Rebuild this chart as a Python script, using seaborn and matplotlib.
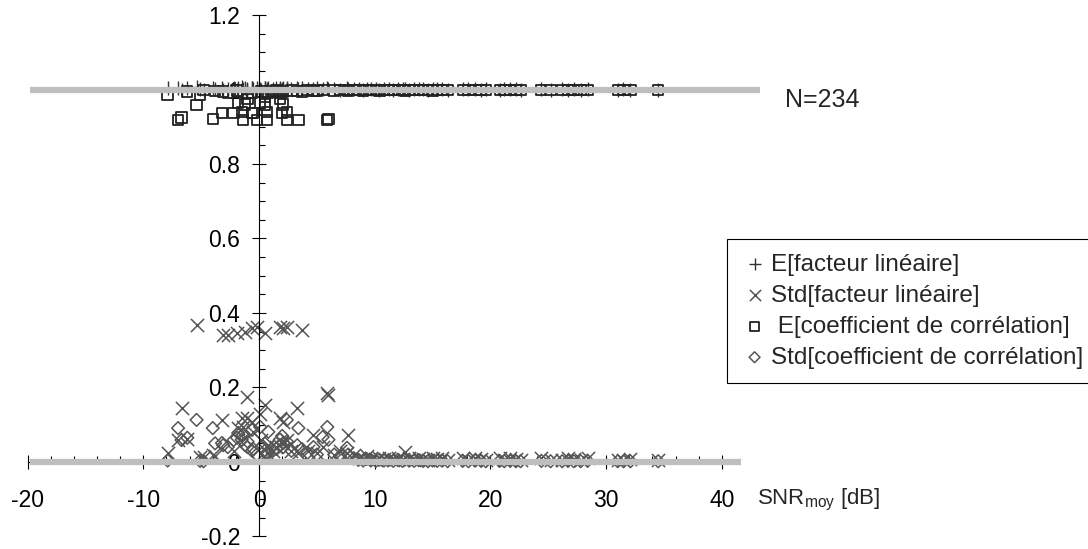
import numpy as np
import pandas as pd
import matplotlib
matplotlib.use("Agg")
import matplotlib.pyplot as plt
import matplotlib.ticker as mticker
import seaborn as sns

# ---------------- données ----------------
snr = [
    -7.9, -7.0, -6.7, -6.2, -5.4, -5.1, -4.8, -4.0, -3.8, -3.2,
    -3.1, -2.7, -2.2, -1.9, -1.8, -1.5, -1.4, -1.2, -1.0, -1.0,
    -0.6, -0.6, -0.5, -0.2, 0.1, 0.2, 0.5, 0.5, 0.7, 0.7,
    0.8, 1.2, 1.5, 1.8, 1.8, 2.0, 2.1, 2.1, 2.4, 2.4,
    2.8, 3.3, 3.4, 3.7, 4.2, 4.7, 5.0, 5.5, 5.9, 6.0,
    6.5, 7.0, 7.6, 7.7,
    8.2, 8.6, 9.0, 9.3, 9.7, 10.1, 10.4, 10.8, 11.2, 11.6,
    12.0, 12.4, 12.6, 13.0, 13.4, 13.8, 14.2, 14.6, 15.0, 15.4,
    15.8, 16.3, 17.6, 18.1, 18.7, 19.2, 19.6, 20.8, 21.2, 21.7,
    22.2, 22.6, 24.4, 25.2, 26.2, 26.7, 27.2, 27.8, 28.4, 31.0,
    31.5, 32.1, 34.5,
]

e_facteur = [
    1.003, 1.005, 0.998, 1.004, 1.006, 1.002, 1.000, 1.004, 1.001, 1.003,
    0.999, 1.002, 1.005, 1.000, 1.003, 1.006, 1.001, 1.004, 1.002, 1.000,
    1.005, 1.003, 1.001, 1.004, 1.002, 0.999, 1.003, 1.005, 1.001, 1.000,
    1.004, 1.002, 1.003, 1.001, 1.005, 1.002, 1.000, 1.004, 1.003, 1.001,
    1.002, 1.004, 1.001, 1.003, 1.002, 1.001, 1.004, 1.002, 1.003, 1.001,
    1.002, 1.000, 1.003, 1.001,
    1.001, 1.002, 1.000, 1.001, 1.002, 1.001, 1.000, 1.002, 1.001, 1.000,
    1.001, 1.002, 1.001, 1.000, 1.001, 1.002, 1.001, 1.000, 1.001, 1.002,
    1.001, 1.000, 1.001, 1.002, 1.001, 1.000, 1.001, 1.000, 1.001, 1.002,
    1.001, 1.000, 1.001, 1.000, 1.001, 1.000, 1.001, 1.000, 1.001, 1.000,
    1.001, 1.000, 1.000,
]

std_facteur = [
    0.024, 0.060, 0.145, 0.062, 0.368, 0.013, 0.013, 0.020, 0.015, 0.113,
    0.341, 0.341, 0.030, 0.346, 0.090, 0.118, 0.095, 0.350, 0.175, 0.118,
    0.360, 0.107, 0.080, 0.363, 0.130, 0.060, 0.346, 0.153, 0.040, 0.025,
    0.045, 0.030, 0.040, 0.363, 0.118, 0.050, 0.360, 0.107, 0.363, 0.060,
    0.030, 0.145, 0.025, 0.354, 0.030, 0.072, 0.025, 0.040, 0.185, 0.180,
    0.020, 0.030, 0.025, 0.072,
    0.020, 0.012, 0.008, 0.015, 0.010, 0.006, 0.012, 0.008, 0.010, 0.005,
    0.012, 0.008, 0.027, 0.010, 0.006, 0.012, 0.008, 0.005, 0.010, 0.007,
    0.012, 0.006, 0.010, 0.005, 0.012, 0.008, 0.004, 0.010, 0.006, 0.012,
    0.008, 0.004, 0.010, 0.006, 0.004, 0.010, 0.008, 0.005, 0.010, 0.006,
    0.004, 0.009, 0.005,
]

e_correl = [
    0.985, 0.918, 0.925, 0.995, 0.958, 0.985, 0.998, 0.921, 0.996, 0.937,
    0.995, 0.990, 0.937, 0.997, 0.965, 0.940, 0.918, 0.960, 0.975, 0.990,
    0.990, 0.937, 0.937, 0.918, 0.965, 0.995, 0.980, 0.960, 0.940, 0.918,
    0.990, 0.995, 0.997, 0.975, 0.990, 0.937, 0.960, 0.995, 0.940, 0.918,
    0.997, 0.996, 0.918, 0.995, 0.998, 0.996, 0.997, 0.998, 0.918, 0.921,
    0.997, 0.998, 0.998, 0.996,
    0.998, 0.999, 0.997, 0.999, 0.998, 0.999, 0.997, 0.999, 0.998, 0.999,
    0.998, 0.999, 0.997, 0.999, 0.998, 0.999, 0.998, 0.999, 0.997, 0.999,
    0.998, 0.999, 0.999, 0.998, 0.999, 0.999, 0.998, 0.999, 0.999, 0.998,
    0.999, 0.999, 0.999, 0.999, 0.999, 0.999, 0.999, 0.999, 0.999, 0.999,
    0.999, 0.999, 0.999,
]

std_correl = [
    0.004, 0.091, 0.059, 0.065, 0.113, 0.003, 0.002, 0.091, 0.050, 0.051,
    0.045, 0.040, 0.059, 0.065, 0.078, 0.060, 0.072, 0.045, 0.055, 0.040,
    0.086, 0.030, 0.035, 0.020, 0.094, 0.040, 0.030, 0.050, 0.025, 0.020,
    0.081, 0.030, 0.035, 0.060, 0.045, 0.070, 0.051, 0.040, 0.113, 0.055,
    0.030, 0.045, 0.091, 0.035, 0.025, 0.040, 0.020, 0.067, 0.094, 0.060,
    0.020, 0.015, 0.038, 0.020,
    0.010, 0.006, 0.004, 0.008, 0.005, 0.003, 0.006, 0.004, 0.005, 0.003,
    0.005, 0.003, 0.006, 0.004, 0.003, 0.005, 0.003, 0.002, 0.004, 0.003,
    0.004, 0.002, 0.003, 0.002, 0.004, 0.003, 0.002, 0.003, 0.002, 0.003,
    0.002, 0.002, 0.003, 0.002, 0.002, 0.003, 0.002, 0.002, 0.003, 0.002,
    0.002, 0.002, 0.002,
]

df = pd.DataFrame({"snr": snr, "e_fact": e_facteur, "std_fact": std_facteur,
                   "e_corr": e_correl, "std_corr": std_correl})

# ---------------- style ----------------
sns.set_theme(style="white")
plt.rcParams["font.family"] = ["Liberation Sans", "DejaVu Sans"]
plt.rcParams["axes.unicode_minus"] = False

fig = plt.figure(figsize=(10.88, 5.49), dpi=100)
ax = fig.add_axes([0, 0, 1, 1])

sns.scatterplot(data=df, x="snr", y="e_fact", marker="+", s=95,
                color="#333333", linewidth=1.0, label="E[facteur linéaire]", ax=ax)
sns.scatterplot(data=df, x="snr", y="std_fact", marker="x", s=90,
                color="#555555", linewidth=1.1, label="Std[facteur linéaire]", ax=ax)
sns.scatterplot(data=df, x="snr", y="e_corr", marker="s", s=55,
                facecolor="none", edgecolor="#222222", linewidth=1.3,
                label=" E[coefficient de corrélation]", ax=ax)
sns.scatterplot(data=df, x="snr", y="std_corr", marker="D", s=42,
                facecolor="none", edgecolor="#555555", linewidth=1.1,
                label="Std[coefficient de corrélation]", ax=ax)

# lignes grises de référence
ax.hlines(1.0, -19.8, 43.3, color="#bfbfbf", linewidth=4.5, zorder=4)
ax.hlines(0.0, -19.8, 41.7, color="#bfbfbf", linewidth=4.5, zorder=4)

ax.set_xlim(-22.39, 71.65)
ax.set_ylim(-0.2336, 1.2403)

# axes croisés en zéro
for s in ["top", "right"]:
    ax.spines[s].set_visible(False)
ax.spines["left"].set_position(("data", 0))
ax.spines["bottom"].set_position(("data", 0))
ax.spines["left"].set_bounds(-0.2, 1.2)
ax.spines["bottom"].set_bounds(-20, 40)
for s in ["left", "bottom"]:
    ax.spines[s].set_color("black")
    ax.spines[s].set_linewidth(0.8)

ax.xaxis.set_major_locator(mticker.FixedLocator(np.arange(-20, 41, 10)))
ax.xaxis.set_minor_locator(mticker.FixedLocator(np.arange(-20, 41, 2)))
ax.yaxis.set_major_locator(mticker.FixedLocator(np.round(np.arange(-0.2, 1.21, 0.2), 2)))
ax.yaxis.set_minor_locator(mticker.FixedLocator(np.round(np.arange(-0.2, 1.21, 0.05), 2)))
fmt = mticker.FuncFormatter(lambda v, p: f"{v:g}")
ax.xaxis.set_major_formatter(fmt)
ax.yaxis.set_major_formatter(fmt)

ax.tick_params(axis="x", which="major", direction="inout", length=10, width=0.8,
               pad=14.5, labelsize=16.5, colors="black", bottom=True)
ax.tick_params(axis="x", which="minor", direction="in", length=4, width=0.8,
               bottom=True, colors="black")
ax.tick_params(axis="y", which="major", direction="inout", length=10, width=0.8,
               pad=8.5, labelsize=16.5, colors="black", left=True)
ax.tick_params(axis="y", which="minor", direction="in", length=4, width=0.8,
               left=True, colors="black")
ax.set_xlabel("")
ax.set_ylabel("")

ax.text(45.5, 0.972, "N=234", fontsize=18, va="center", ha="left")
ax.text(43.0, -0.102, "SNR$_{\\mathregular{moy}}$ [dB]", fontsize=16,
        va="center", ha="left")

leg = ax.legend(loc="upper left", bbox_to_anchor=(727 / 1088, 1 - 239 / 549),
                bbox_transform=fig.transFigure, fontsize=17.5, frameon=True,
                fancybox=False, edgecolor="black", framealpha=1,
                borderpad=0.6, handlelength=1.07, handletextpad=0.12,
                labelspacing=0.37, markerscale=0.85, borderaxespad=0)
leg.get_frame().set_linewidth(0.8)

fig.savefig("out.png", dpi=100)
